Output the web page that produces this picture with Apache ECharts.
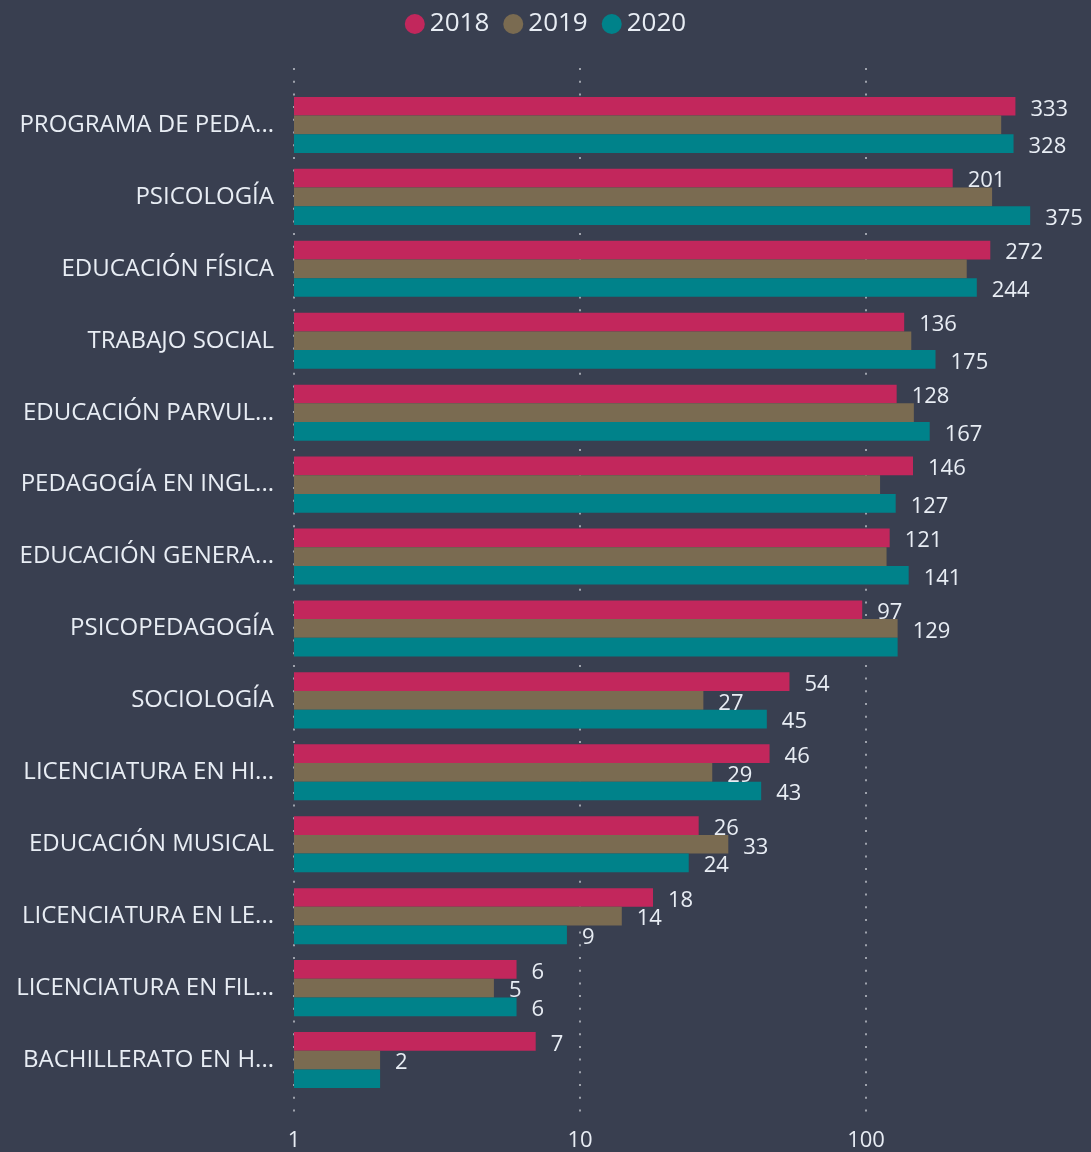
<!DOCTYPE html>
<html>
<head>
<meta charset="utf-8">
<script src="https://cdn.jsdelivr.net/npm/echarts@6/dist/echarts.min.js"></script>
<style>
html,body{margin:0;padding:0;background:#393F50;}
#chart{width:1091px;height:1152px;}
</style>
</head>
<body>
<div id="chart"></div>
<script>
const categories = [
  "PROGRAMA DE PEDA...",
  "PSICOLOGÍA",
  "EDUCACIÓN FÍSICA",
  "TRABAJO SOCIAL",
  "EDUCACIÓN PARVUL...",
  "PEDAGOGÍA EN INGL...",
  "EDUCACIÓN GENERA...",
  "PSICOPEDAGOGÍA",
  "SOCIOLOGÍA",
  "LICENCIATURA EN HI...",
  "EDUCACIÓN MUSICAL",
  "LICENCIATURA EN LE...",
  "LICENCIATURA EN FIL...",
  "BACHILLERATO EN H..."
];
const seriesNames = ["2018", "2019", "2020"];
const values2018 = [333, 201, 272, 136, 128, 146, 121, 97, 54, 46, 26, 18, 6, 7];
const values2019 = [297, 276, 225, 144, 147, 112, 118, 129, 27, 29, 33, 14, 5, 2];
const values2020 = [328, 375, 244, 175, 167, 127, 141, 129, 45, 43, 24, 9, 6, 2];
// data labels not shown in the original (hidden by overlap), by category index
const hidden2018 = [];
const hidden2019 = [0, 1, 2, 3, 4, 5, 6];
const hidden2020 = [7, 13];
const xTicks = [1, 10, 100];

const colors = ["#C2275C", "#7A6B51", "#00828A"];
const textColor = "#E8EDF4";
const font = "'Open Sans', 'Noto Sans', sans-serif";

const allValues = [values2018, values2019, values2020];
const allHidden = [hidden2018, hidden2019, hidden2020];

const chart = echarts.init(document.getElementById('chart'), null, {renderer: 'canvas'});

const series = seriesNames.map((name, i) => ({
  name: name,
  type: 'bar',
  xAxisIndex: 0,
  yAxisIndex: 0,
  barGap: '0%',
  barCategoryGap: '22%',
  itemStyle: {color: colors[i]},
  label: {
    show: true,
    position: 'right',
    distance: 15,
    offset: [0, 3],
    color: textColor,
    fontSize: 22,
    fontFamily: font,
    formatter: p => allHidden[i].indexOf(p.dataIndex) >= 0 ? '' : String(p.value)
  },
  data: allValues[i]
}));

const logMax = 400;

chart.setOption({
  backgroundColor: '#393F50',
  animation: false,
  color: colors,
  legend: {
    data: seriesNames,
    top: 6,
    left: 'center',
    icon: 'circle',
    itemWidth: 20,
    itemHeight: 20,
    itemGap: 14,
    textStyle: {color: textColor, fontSize: 26, fontFamily: font}
  },
  grid: [
    {left: 294, right: 1091 - 294 - 286 * Math.log10(logMax), top: 89, bottom: 56},
    {left: 294, right: 1091 - 294 - 286 * Math.log10(logMax), top: 68, bottom: 32}
  ],
  xAxis: [
    {gridIndex: 0, type: 'log', logBase: 10, min: 1, max: logMax, show: false},
    {
      gridIndex: 1, type: 'log', logBase: 10, min: 1, max: logMax,
      axisLine: {show: false},
      axisTick: {show: false},
      splitLine: {
        show: true,
        showMaxLine: false,
        lineStyle: {color: '#9EA2AC', width: 2, type: [2, 10.7]}
      },
      axisLabel: {
        color: textColor, fontSize: 22, fontFamily: font, margin: 11,
        showMaxLabel: false,
        formatter: v => xTicks.indexOf(Math.round(v)) >= 0 ? String(Math.round(v)) : ''
      }
    }
  ],
  yAxis: [
    {
      gridIndex: 0, type: 'category', inverse: true, data: categories,
      axisLine: {show: false}, axisTick: {show: false},
      axisLabel: {color: textColor, fontSize: 24, fontFamily: font, margin: 20}
    },
    {gridIndex: 1, type: 'category', inverse: true, data: categories, show: false}
  ],
  series: series
});
</script>
</body>
</html>
